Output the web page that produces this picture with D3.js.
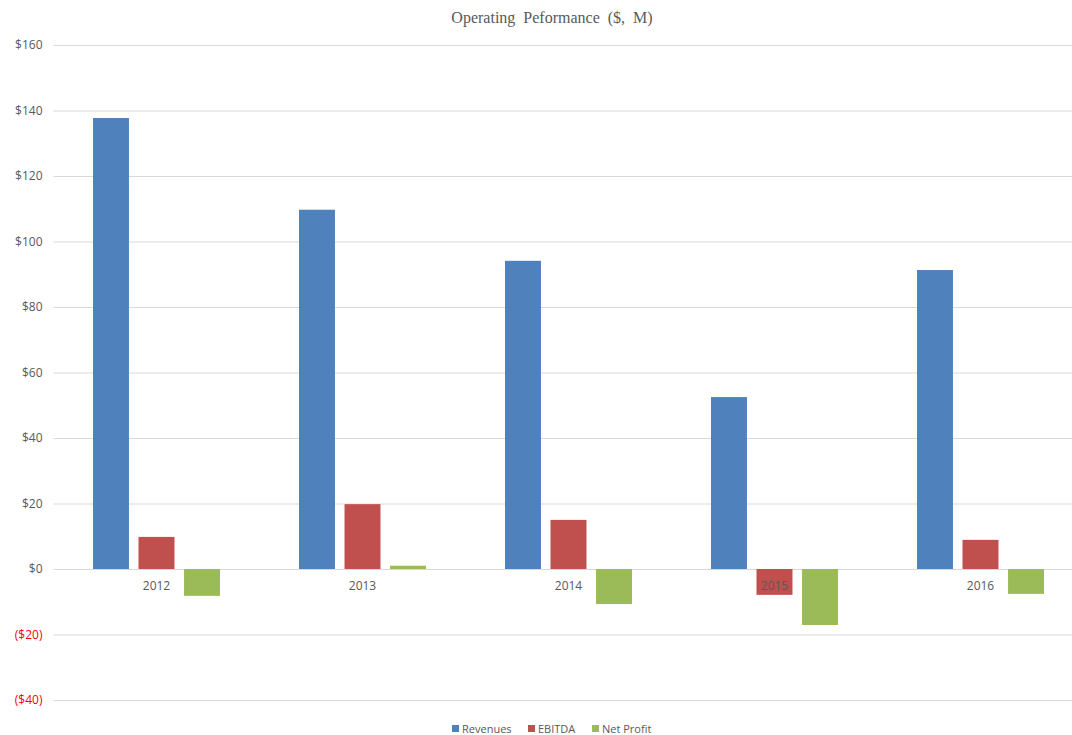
<!DOCTYPE html>
<html>
<head>
<meta charset="utf-8">
<script src="https://cdn.jsdelivr.net/npm/d3@7"></script>
<style>
  body { margin: 0; background: #fff; }
  svg { display: block; }
</style>
</head>
<body>
<svg width="1072" height="735"></svg>
<script>
// chart data
const years = ['2012', '2013', '2014', '2015', '2016'];
const seriesNames = ['Revenues', 'EBITDA', 'Net Profit'];
const revenues = [137.7, 109.7, 94.1, 52.5, 91.3];
const ebitda = [9.8, 19.8, 15.0, -7.9, 8.9];
const netProfit = [-8.2, 1.0, -10.7, -17.1, -7.6];
const yTicks = [-40, -20, 0, 20, 40, 60, 80, 100, 120, 140, 160];

const colors = ['#4f81bd', '#c0504d', '#9bbb59'];
const seriesValues = [revenues, ebitda, netProfit];

const svg = d3.select('svg'),
      margin = {top: 45, right: 0, bottom: 35, left: 53.5},
      width = +svg.attr('width') - margin.left - margin.right,
      height = +svg.attr('height') - margin.top - margin.bottom,
      g = svg.append('g').attr('transform', 'translate(' + margin.left + ',' + margin.top + ')');

// the category band runs a little past the right edge (chart is cropped there)
const x = d3.scaleBand()
            .domain(years)
            .range([0, 1030]);

// inner band for the three series in each year
const x1 = d3.scaleBand()
             .domain(seriesNames)
             .range([x.bandwidth() / 2 - 63.5, x.bandwidth() / 2 + 63.5])
             .paddingInner(0.21);

const y = d3.scaleLinear()
            .domain([-40, 160])
            .range([height, 0]);

// gridlines + y labels
const yAxis = g.append('g')
    .call(d3.axisLeft(y)
      .tickValues(yTicks)
      .tickSize(-width)
      .tickPadding(11)
      .tickFormat((d) => d < 0 ? '($' + (-d) + ')' : '$' + d));

yAxis.select('.domain').remove();
yAxis.selectAll('.tick line')
    .attr('stroke', '#d9d9d9');
yAxis.selectAll('.tick text')
    .attr('fill', (d) => d < 0 ? '#ff0000' : '#595959')
    .style('font-family', '"Open Sans", sans-serif')
    .style('font-size', '12px');

// bars
const groups = g.selectAll('.year')
  .data(years)
  .enter().append('g')
    .attr('class', 'year')
    .attr('transform', (d) => 'translate(' + x(d) + ',0)');

groups.selectAll('rect')
  .data((d, i) => seriesNames.map((s, k) => ({series: s, value: seriesValues[k][i], k: k})))
  .enter().append('rect')
    .attr('x', (d) => x1(d.series))
    .attr('width', x1.bandwidth())
    .attr('y', (d) => y(Math.max(0, d.value)))
    .attr('height', (d) => Math.abs(y(d.value) - y(0)))
    .attr('fill', (d) => colors[d.k]);

// category labels sit on top of the bars
g.append('g')
    .attr('transform', 'translate(0,' + y(0) + ')')
    .call(d3.axisBottom(x).tickSize(0).tickPadding(12))
    .call((ax) => ax.select('.domain').remove())
  .selectAll('text')
    .attr('fill', '#595959')
    .style('font-family', '"Open Sans", sans-serif')
    .style('font-size', '12px');

// title
svg.append('text')
    .attr('x', 552)
    .attr('y', 23)
    .attr('text-anchor', 'middle')
    .attr('fill', '#595959')
    .style('font-family', '"Liberation Serif", serif')
    .style('font-size', '16px')
    .style('word-spacing', '4px')
    .text('Operating Peformance ($, M)');

// legend
const legendX = [452, 528, 592];
const legend = svg.append('g')
    .attr('transform', 'translate(0,729)');

legend.selectAll('rect')
  .data(seriesNames)
  .enter().append('rect')
    .attr('x', (d, i) => legendX[i])
    .attr('y', -4)
    .attr('width', 7)
    .attr('height', 7)
    .attr('fill', (d, i) => colors[i]);

legend.selectAll('text')
  .data(seriesNames)
  .enter().append('text')
    .attr('x', (d, i) => legendX[i] + 10)
    .attr('y', 4)
    .attr('fill', '#595959')
    .style('font-family', '"Open Sans", sans-serif')
    .style('font-size', '11px')
    .text((d) => d);
</script>
</body>
</html>
